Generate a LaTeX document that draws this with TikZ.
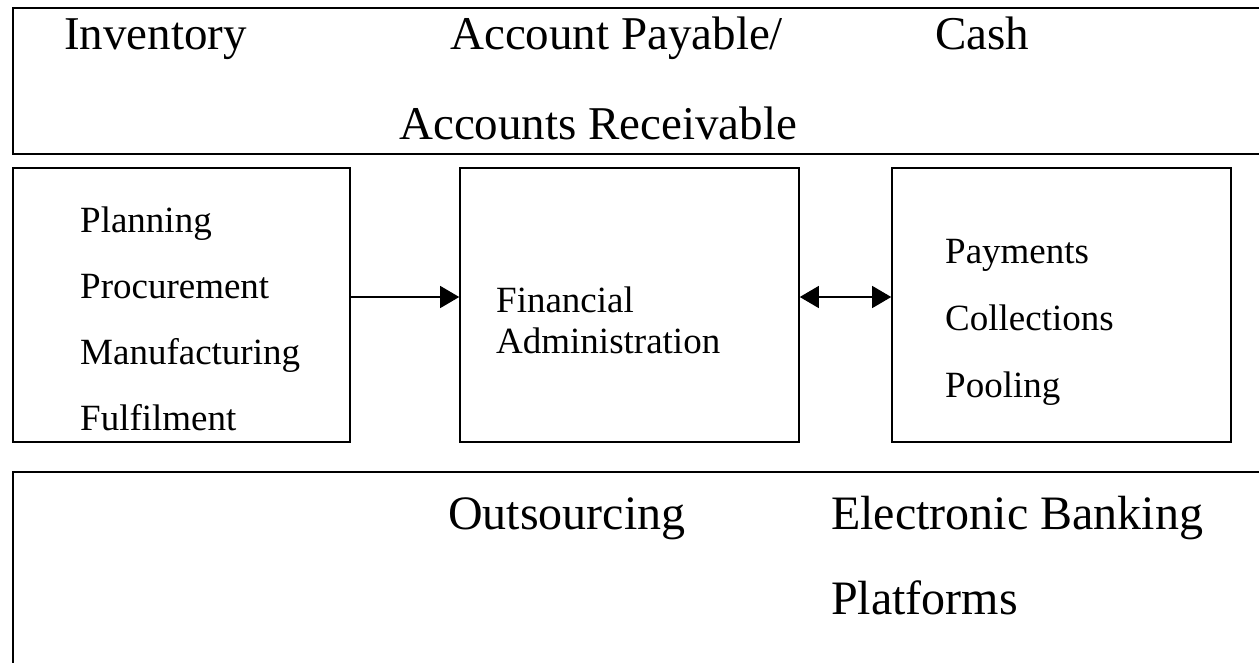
\documentclass[tikz,border=0pt]{standalone}
\usepackage{fontspec}
\setmainfont{Liberation Serif}
\usetikzlibrary{arrows.meta,positioning}

\begin{document}
\begin{tikzpicture}[x=1pt,y=-1pt,
	frame/.style={draw,line width=1.6pt,inner sep=0pt},
	big/.style={anchor=base west,inner sep=0pt,font=\fontsize{47}{56}\selectfont},
	bigger/.style={anchor=base west,inner sep=0pt,font=\fontsize{48}{58}\selectfont},
	small/.style={anchor=base west,inner sep=0pt,font=\fontsize{37}{44}\selectfont},
	link/.style={line width=1.2pt,-{Triangle[length=19pt,width=22pt]}},
	twoway/.style={line width=1.2pt,{Triangle[length=19pt,width=22pt]}-{Triangle[length=19pt,width=22pt]}}]
	\path[use as bounding box,clip] (0,0) rectangle (1259,662);
	% bands and boxes
	\node[frame,minimum width=1287pt,minimum height=146pt] (top) at (656.5,81) {};
	\node[frame,minimum width=337pt,minimum height=274pt] (plan) at (181.5,305) {};
	\node[frame,minimum width=339pt,minimum height=274pt] (fin) at (629.5,305) {};
	\node[frame,minimum width=339pt,minimum height=274pt] (pay) at (1061.5,305) {};
	\node[frame,minimum width=1287pt,minimum height=228pt] (bottom) at (656.5,586) {};
	% top band
	\node[big] (inv) at (64,49) {Inventory};
	\node[big] (ap) at (450,49) {Account Payable/};
	\node[big] (cash) at (935,49) {Cash};
	\node[big] (ar) at (399,139) {Accounts Receivable};
	% left box
	\node[small] (p1) at (80,232) {Planning};
	\node[small] (p2) at (80,298) {Procurement};
	\node[small] (p3) at (80,364) {Manufacturing};
	\node[small] (p4) at (80,430) {Fulfilment};
	% middle box
	\node[small] (f1) at (496,312) {Financial};
	\node[small] (f2) at (496,353) {Administration};
	% right box
	\node[small] (c1) at (945,263) {Payments};
	\node[small] (c2) at (945,330) {Collections};
	\node[small] (c3) at (945,397) {Pooling};
	% bottom band
	\node[bigger] (out) at (448,529) {Outsourcing};
	\node[bigger] (eb) at (831,529) {Electronic Banking};
	\node[bigger] (plat) at (831,614) {Platforms};
	\draw[link] ([yshift=8pt]plan.east) -- ([yshift=8pt]fin.west);
	\draw[twoway] ([yshift=8pt]fin.east) -- ([yshift=8pt]pay.west);
\end{tikzpicture}
\end{document}
